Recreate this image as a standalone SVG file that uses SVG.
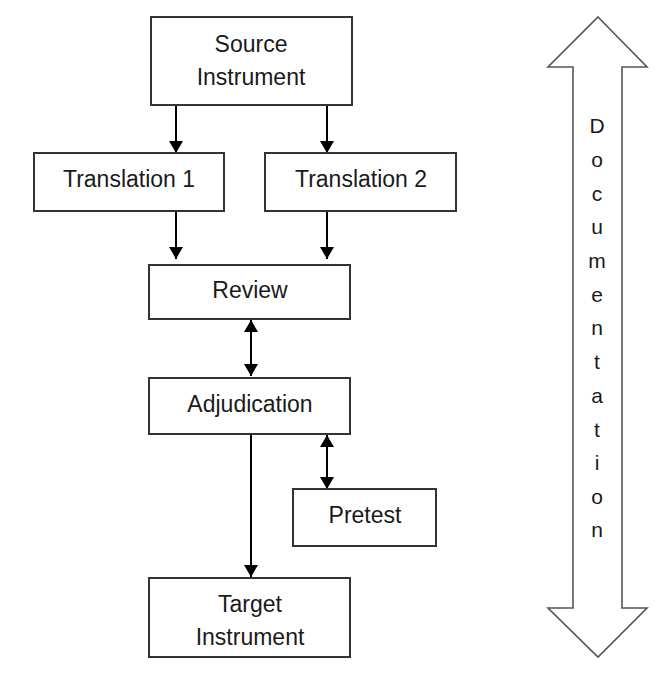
<svg xmlns="http://www.w3.org/2000/svg" width="669" height="690" viewBox="0 0 669 690">
<style>
.box{fill:#fff;stroke:#333;stroke-width:2}
.lbl{font-family:"Liberation Sans",Arial,sans-serif;font-size:23px;fill:#1a1a1a;text-anchor:middle}
.doc{font-family:"Liberation Sans",Arial,sans-serif;font-size:21px;fill:#1a1a1a;text-anchor:middle}
.con{stroke:#000;stroke-width:2;fill:none}
</style>
<defs>
<marker id="ah" markerWidth="12" markerHeight="14" refX="12" refY="7" orient="auto" markerUnits="userSpaceOnUse" viewBox="0 0 12 14">
<path d="M0,0 L12,7 L0,14 Z" fill="#000"/>
</marker>
<marker id="as" markerWidth="12" markerHeight="14" refX="0" refY="7" orient="auto" markerUnits="userSpaceOnUse" viewBox="0 0 12 14">
<path d="M12,0 L0,7 L12,14 Z" fill="#000"/>
</marker>
</defs>
<rect width="669" height="690" fill="#fff"/>
<g id="connectors">
<line class="con" x1="176" y1="105" x2="176" y2="153" marker-end="url(#ah)"/>
<line class="con" x1="327" y1="105" x2="327" y2="153" marker-end="url(#ah)"/>
<line class="con" x1="176" y1="211" x2="176" y2="259" marker-end="url(#ah)"/>
<line class="con" x1="327" y1="211" x2="327" y2="259" marker-end="url(#ah)"/>
<line class="con" x1="251" y1="320" x2="251" y2="376" marker-start="url(#as)" marker-end="url(#ah)"/>
<line class="con" x1="251" y1="434" x2="251" y2="577" marker-end="url(#ah)"/>
<line class="con" x1="327" y1="435" x2="327" y2="489" marker-start="url(#as)" marker-end="url(#ah)"/>
</g>
<g id="source">
<rect class="box" x="151" y="17" width="201" height="88"/>
<text class="lbl" x="251" y="52">Source</text>
<text class="lbl" x="251" y="85">Instrument</text>
</g>
<g id="translation1">
<rect class="box" x="34" y="153" width="190" height="58"/>
<text class="lbl" x="129" y="187">Translation 1</text>
</g>
<g id="translation2">
<rect class="box" x="265" y="153" width="191" height="58"/>
<text class="lbl" x="361" y="187">Translation 2</text>
</g>
<g id="review">
<rect class="box" x="149" y="265" width="201" height="54"/>
<text class="lbl" x="250" y="298">Review</text>
</g>
<g id="adjudication">
<rect class="box" x="149" y="378" width="201" height="56"/>
<text class="lbl" x="250" y="412">Adjudication</text>
</g>
<g id="pretest">
<rect class="box" x="293" y="489" width="143" height="57"/>
<text class="lbl" x="365" y="523">Pretest</text>
</g>
<g id="target">
<rect class="box" x="149" y="578" width="201" height="79"/>
<text class="lbl" x="250" y="612">Target</text>
<text class="lbl" x="250" y="645">Instrument</text>
</g>
<g id="documentation">
<path d="M598,17 L647,67 L622,67 L622,608 L647,608 L598,657 L548,608 L573,608 L573,67 L548,67 Z" fill="#fff" stroke="#555" stroke-width="1.6" stroke-linejoin="miter"/>
<text class="doc" x="597" y="133">D</text>
<text class="doc" x="597" y="167">o</text>
<text class="doc" x="597" y="201">c</text>
<text class="doc" x="597" y="234">u</text>
<text class="doc" x="597" y="268">m</text>
<text class="doc" x="597" y="302">e</text>
<text class="doc" x="597" y="335">n</text>
<text class="doc" x="597" y="369">t</text>
<text class="doc" x="597" y="403">a</text>
<text class="doc" x="597" y="437">t</text>
<text class="doc" x="597" y="470">i</text>
<text class="doc" x="597" y="504">o</text>
<text class="doc" x="597" y="537">n</text>
</g>
</svg>
